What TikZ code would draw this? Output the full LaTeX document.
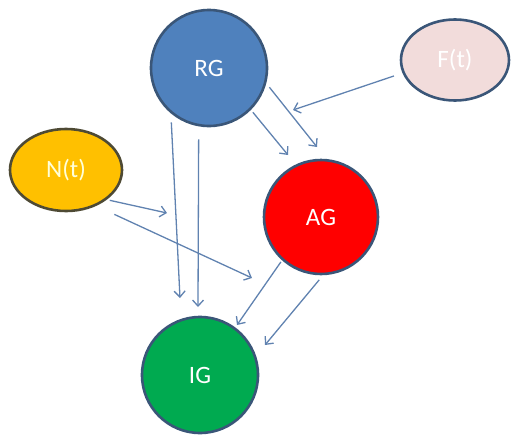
\documentclass[tikz,border=0pt]{standalone}
\usepackage[RGB]{xcolor}
\usepackage{fontspec}
\setmainfont{Carlito}
\usetikzlibrary{arrows.meta}
\definecolor{RGfill}{RGB}{79,129,189}
\definecolor{AGfill}{RGB}{255,0,0}
\definecolor{IGfill}{RGB}{0,170,80}
\definecolor{Nfill}{RGB}{255,192,0}
\definecolor{Ffill}{RGB}{242,220,219}
\definecolor{rim}{RGB}{58,86,120}
\definecolor{Nrim}{RGB}{78,74,52}
\definecolor{flowc}{RGB}{96,130,176}
\tikzset{
  ring/.style={circle, draw=rim, line width=2.6pt, minimum size=116pt, text=white,
    font=\fontsize{25}{29}\selectfont},
  oval/.style={ellipse, draw=rim, line width=2.6pt, text=white,
    font=\fontsize{25}{29}\selectfont},
  flow/.style={draw=flowc, line width=1.3pt, -{Straight Barb[length=6pt,width=11pt]}}
}
\usetikzlibrary{shapes.geometric}
\begin{document}
\begin{tikzpicture}[x=1pt,y=-1pt]
\useasboundingbox (0,0) rectangle (512,437);
\node[ring, fill=RGfill] (RG) at (209,68) {RG};
\node[ring, fill=AGfill, minimum size=114pt] (AG) at (321,217) {AG};
\node[ring, fill=IGfill] (IG) at (200,375) {IG};
\node[oval, fill=Nfill, draw=Nrim, minimum width=112pt, minimum height=82pt, text=white!85!yellow] (Nt) at (66,170) {N(t)};
\node[oval, fill=Ffill, minimum width=108pt, minimum height=81pt] (Ft) at (455,60) {F(t)};
\coordinate (ftip) at (293,110);
\coordinate (agtipa) at (288,155);
\coordinate (agtipb) at (317,147);
\coordinate (igtipa) at (180,298);
\coordinate (igtipb) at (198,307);
\coordinate (ntipa) at (167,213);
\coordinate (ntipb) at (252,278);
\coordinate (igtipc) at (237,325);
\coordinate (igtipd) at (265,345);
\draw[flow, shorten <=9pt] (Ft.194) -- (ftip);
\draw[flow, shorten <=3pt] (RG.315) -- (agtipa);
\draw[flow, shorten <=5pt] (RG.345) -- (agtipb);
\draw[flow, shorten <=9pt] (RG.230) -- (igtipa);
\draw[flow, shorten <=13pt] (RG.260) -- (igtipb);
\draw[flow, shorten <=3pt] (Nt.-36) -- (ntipa);
\draw[flow, shorten <=20pt] (Nt.-50) -- (ntipb);
\draw[flow, shorten <=2pt] (AG.228) -- (igtipc);
\draw[flow, shorten <=6pt] (AG.272) -- (igtipd);
\end{tikzpicture}
\end{document}
